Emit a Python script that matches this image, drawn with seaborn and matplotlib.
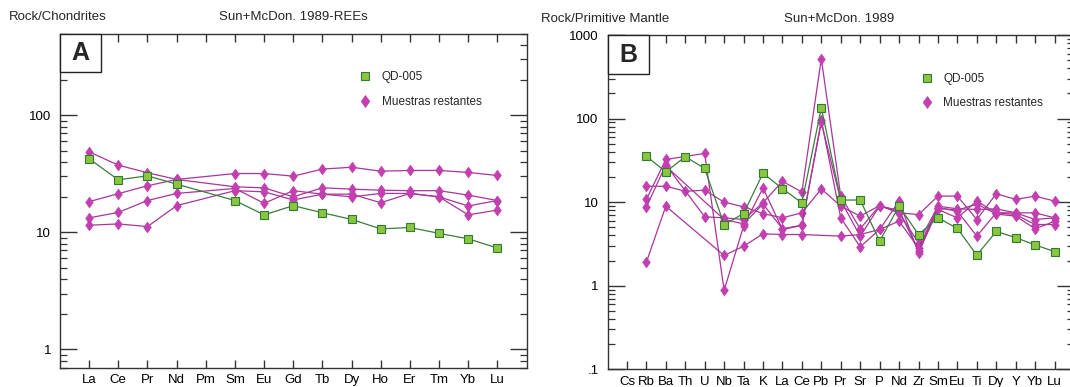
import numpy as np
import pandas as pd
import matplotlib
matplotlib.use("Agg")
import matplotlib.pyplot as plt
import seaborn as sns
from matplotlib.lines import Line2D
from matplotlib.patches import Rectangle
from matplotlib.path import Path
from matplotlib.ticker import LogLocator, NullFormatter

nan = np.nan

# ---------------- data: panel A (REE, chondrite normalised) ----------------
ree_elements = ["La", "Ce", "Pr", "Nd", "Pm", "Sm", "Eu", "Gd", "Tb", "Dy",
                "Ho", "Er", "Tm", "Yb", "Lu"]
ree_qd005 = [42.5, 28.1, 30.4, 25.8, nan, 18.7, 14.1, 16.9, 14.7, 12.9,
             10.7, 11.0, 9.8, 8.8, 7.35]
ree_m1 = [48.7, 37.5, 32.3, 28.3, nan, 31.8, 31.8, 30.2, 34.7, 36.0,
          33.3, 33.8, 33.8, 32.5, 30.6]
ree_m2 = [18.3, 21.4, 25.0, 28.3, nan, 24.5, 24.0, 20.1, 24.0, 23.4,
          22.9, 22.7, 22.7, 20.8, 18.7]
ree_m3 = [13.3, 14.8, 18.7, 21.5, nan, 23.7, 17.7, 22.7, 21.2, 21.2,
          17.9, 21.5, 20.1, 16.8, 18.7]
ree_m4 = [11.5, 11.8, 11.2, 16.9, nan, 22.7, 22.2, 18.9, 21.2, 20.1,
          21.5, 21.5, 20.1, 14.1, 15.5]

# ---------------- data: panel B (spider, primitive mantle normalised) -------
spd_elements = ["Cs", "Rb", "Ba", "Th", "U", "Nb", "Ta", "K", "La", "Ce", "Pb",
                "Pr", "Sr", "P", "Nd", "Zr", "Sm", "Eu", "Ti", "Dy", "Y", "Yb", "Lu"]
spd_qd005 = [nan, 35.5, 23.0, 35.0, 25.3, 5.4, 7.3, 22.2, 14.5, 9.8, 135,
             10.6, 10.6, 3.42, 8.96, 4.1, 6.5, 4.85, 2.32, 4.46, 3.76, 3.08, 2.56]
spd_m1 = [nan, 15.5, 15.5, 13.5, 13.9, 10.0, 8.8, 7.3, 6.5, 7.45, 14.4,
          8.96, 6.8, 9.1, 7.45, 7.1, 11.8, 11.8, 6.2, 12.6, 10.8, 11.8, 10.3]
spd_m2 = [nan, 10.8, 32.4, nan, 38.3, 0.88, 5.16, 14.8, 4.71, 5.26, 95,
          6.49, 2.92, 4.71, 10.3, 2.47, 8.17, 6.49, 10.3, 7.45, 7.1, 5.4, 5.4]
spd_m3 = [nan, 8.71, 28.0, nan, 6.67, 6.49, 6.2, 9.8, 17.8, 13.2, 521,
          11.8, 4.8, 9.1, 7.45, 3.26, 8.96, 8.32, 8.17, 8.32, 7.45, 7.45, 6.49]
spd_m4 = [nan, 1.91, 8.95, nan, nan, 2.30, 2.97, 4.18, 4.10, 4.10, nan,
          3.92, 4.1, 4.71, 5.92, 2.84, 8.6, 7.8, 3.92, 7.45, 7.45, 6.2, 6.49]
spd_m5 = [nan, nan, 27.0, nan, nan, 6.2, 5.5, 9.5, 4.8, 5.3, 90,
          10.5, 3.9, 9.0, 8.0, 2.6, 8.5, 8.0, 9.5, 7.2, 6.8, 4.8, 5.9]

# ---------------- style ----------------
sns.set_style("white")
plt.rcParams["font.family"] = ["Liberation Sans", "DejaVu Sans"]

GREEN_FACE = "#8cc63f"
GREEN_EDGE = "#2f7d32"
GREEN_LINE = "#3b7d3b"
MAG_FACE = "#c33fb0"
MAG_LINE = "#a8359c"

# diamond a little wider than matplotlib's thin diamond
DIAMOND = Path([(0, 1), (0.72, 0), (0, -1), (-0.72, 0), (0, 1)],
               [Path.MOVETO, Path.LINETO, Path.LINETO, Path.LINETO, Path.CLOSEPOLY])
DSIZE = 7.6
SSIZE = 6.4


def long_df(series, elements):
    rows = []
    for name, vals in series.items():
        for i, v in enumerate(vals):
            if not np.isnan(v):
                rows.append({"pos": i, "el": elements[i], "value": v, "sample": name})
    return pd.DataFrame(rows)


fig = plt.figure(figsize=(10.70, 3.87), dpi=100)
W, H = 1070.0, 387.0


def make_axes(l, t, r, b):
    return fig.add_axes([l / W, 1 - b / H, (r - l) / W, (b - t) / H])


axA = make_axes(60, 33.5, 526.5, 367.5)
axB = make_axes(607.5, 35, 1074, 369.3)


def draw(ax, elements, greens, mags):
    dfm = long_df(mags, elements)
    sns.lineplot(data=dfm, x="pos", y="value", units="sample", estimator=None,
                 ax=ax, color=MAG_LINE, linewidth=0.9, marker=DIAMOND,
                 markersize=DSIZE, markerfacecolor=MAG_FACE,
                 markeredgecolor=MAG_FACE, markeredgewidth=0.5,
                 legend=False, zorder=3)
    dfg = long_df({"QD-005": greens}, elements)
    sns.lineplot(data=dfg, x="pos", y="value", units="sample", estimator=None,
                 ax=ax, color=GREEN_LINE, linewidth=0.9, marker="s",
                 markersize=SSIZE, markerfacecolor=GREEN_FACE,
                 markeredgecolor=GREEN_EDGE, markeredgewidth=0.8,
                 legend=False, zorder=4)
    n = len(elements)
    ax.set_yscale("log")
    ax.set_xlim(-1, n)
    ax.set_xticks(range(n))
    ax.set_xticklabels(elements)
    ax.set_xlabel("")
    ax.set_ylabel("")
    for s in ax.spines.values():
        s.set_color("#333333")
        s.set_linewidth(1.0)
    ax.yaxis.set_minor_locator(LogLocator(base=10, subs=np.arange(2, 10), numticks=20))
    ax.yaxis.set_minor_formatter(NullFormatter())
    ax.tick_params(which="both", direction="in", left=True, right=True,
                   top=True, bottom=True, colors="#333333", labelcolor="black")
    ax.tick_params(axis="x", which="major", length=6, width=1.0, pad=4.5,
                   labelsize=9.5)
    ax.tick_params(axis="x", which="minor", length=0)
    ax.tick_params(axis="y", which="major", length=12, width=1.0, pad=6.5,
                   labelsize=9.5)
    ax.tick_params(axis="y", which="minor", length=5, width=0.9)


draw(axA, ree_elements, ree_qd005,
     {"m1": ree_m1, "m2": ree_m2, "m3": ree_m3, "m4": ree_m4})
axA.set_ylim(0.7, 500)
axA.set_yticks([1, 10, 100])
axA.set_yticklabels(["1", "10", "100"])

draw(axB, spd_elements, spd_qd005,
     {"m1": spd_m1, "m2": spd_m2, "m3": spd_m3, "m4": spd_m4, "m5": spd_m5})
axB.set_ylim(0.1, 1000)
axB.set_yticks([0.1, 1, 10, 100, 1000])
axB.set_yticklabels([".1", "1", "10", "100", "1000"])

# panel letters
for ax, letter, w, h in [(axA, "A", 41 / 466.5, 38 / 334), (axB, "B", 41 / 466.5, 39 / 334.3)]:
    ax.add_patch(Rectangle((0, 1 - h), w, h, transform=ax.transAxes,
                           facecolor="white", edgecolor="#222222", lw=1.0,
                           zorder=6, clip_on=False))
    ax.text(w / 2, 1 - h / 2, letter, transform=ax.transAxes, ha="center",
            va="center", fontsize=18, fontweight="bold", zorder=7)

# legends
handles = [
    Line2D([], [], linestyle="none", marker="s", markersize=SSIZE,
           markerfacecolor=GREEN_FACE, markeredgecolor=GREEN_EDGE, markeredgewidth=0.8),
    Line2D([], [], linestyle="none", marker=DIAMOND, markersize=DSIZE + 1,
           markerfacecolor=MAG_FACE, markeredgecolor=MAG_FACE, markeredgewidth=0.5),
]
labels = ["QD-005", "Muestras restantes"]
for ax, xa in [(axA, 0.642), (axB, 0.672)]:
    ax.legend(handles, labels, loc="center left", bbox_to_anchor=(xa, 0.832),
              frameon=False, fontsize=8.5, handlelength=1.0, handletextpad=0.9,
              labelspacing=1.05, borderpad=0, borderaxespad=0)

# header texts
fig.text(9 / W, 1 - 17 / H, "Rock/Chondrites", ha="left", va="center", fontsize=9.5)
fig.text(293 / W, 1 - 17 / H, "Sun+McDon. 1989-REEs", ha="center", va="center", fontsize=9.5)
fig.text(541 / W, 1 - 19 / H, "Rock/Primitive Mantle", ha="left", va="center", fontsize=9.5)
fig.text(839 / W, 1 - 19 / H, "Sun+McDon. 1989", ha="center", va="center", fontsize=9.5)

fig.savefig("out.png", dpi=100, facecolor="white")
